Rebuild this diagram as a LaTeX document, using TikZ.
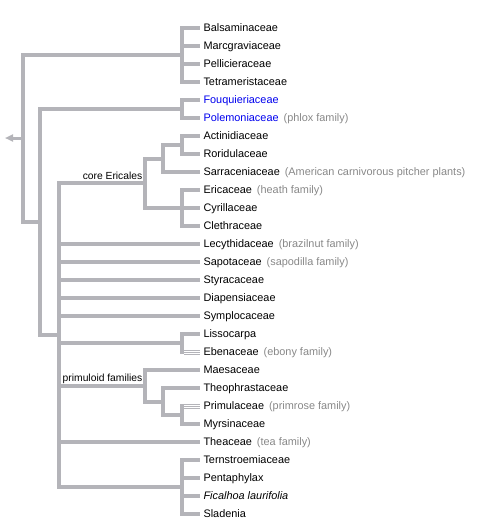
\documentclass[tikz,border=0pt]{standalone}
\usepackage{fontspec}
\setmainfont{Liberation Sans}
\usepackage{tikz}
\usetikzlibrary{arrows.meta, calc}
\definecolor{branchgray}{RGB}{180,180,185}
\definecolor{commongray}{RGB}{136,136,136}
\definecolor{linkblue}{RGB}{0,0,238}
\tikzset{
  branch/.style={draw=branchgray, line width=4pt},
  thinbranch/.style={draw=branchgray, line width=1pt},
  leaf/.style={anchor=west, inner xsep=3.5pt, inner ysep=0pt, outer sep=0pt,
    text height=7.6pt, text depth=0pt, font=\fontsize{10.9}{12}\selectfont},
  cladelabel/.style={anchor=base east, inner sep=0pt,
    font=\fontsize{10.3}{12}\selectfont}
}

\begin{document}
\begin{tikzpicture}[x=1pt, y=-1pt]
    \useasboundingbox (0,0) rectangle (486,525);

    % inner clades
    \coordinate (root) at (23,138);
    \coordinate (tip) at (5,138);
    \coordinate (teaclade) at (182,55);
    \coordinate (ericales) at (40,221.5);
    \coordinate (fouqpol) at (182,109);
    \coordinate (poly) at (59,334.5);
    \coordinate (core) at (145,183);
    \coordinate (actsar) at (163,158.5);
    \coordinate (actror) at (182,145);
    \coordinate (ericcle) at (182,208);
    \coordinate (lisebe) at (182,343);
    \coordinate (primuloid) at (145,385.5);
    \coordinate (theomyr) at (163,401.5);
    \coordinate (primyr) at (182,415);
    \coordinate (tern) at (182,487);

    % leaves
    \foreach \Y/\Name/\Colo/\Taxon/\Common in {
      28/bal/black/Balsaminaceae/,
      46/mar/black/Marcgraviaceae/,
      64/pel/black/Pellicieraceae/,
      82/tet/black/Tetrameristaceae/,
      100/fou/linkblue/Fouquieriaceae/,
      118/pol/linkblue/Polemoniaceae/(phlox family),
      136/act/black/Actinidiaceae/,
      154/ror/black/Roridulaceae/,
      172/sar/black/Sarraceniaceae/(American carnivorous pitcher plants),
      190/eri/black/Ericaceae/(heath family),
      208/cyr/black/Cyrillaceae/,
      226/cle/black/Clethraceae/,
      244/lec/black/Lecythidaceae/(brazilnut family),
      262/sap/black/Sapotaceae/(sapodilla family),
      280/sty/black/Styracaceae/,
      298/dia/black/Diapensiaceae/,
      316/sym/black/Symplocaceae/,
      334/lis/black/Lissocarpa/,
      352/ebe/black/Ebenaceae/(ebony family),
      370/mae/black/Maesaceae/,
      388/the/black/Theophrastaceae/,
      406/pri/black/Primulaceae/(primrose family),
      424/myr/black/Myrsinaceae/,
      442/tea/black/Theaceae/(tea family),
      460/ter/black/Ternstroemiaceae/,
      478/pen/black/Pentaphylax/,
      496/fic/black/\textit{Ficalhoa laurifolia}/,
      514/sla/black/Sladenia/
    }
    \node[leaf, text=\Colo] (\Name) at (200,\Y) {\Taxon\hspace{5pt}\textcolor{commongray}{\Common}};

    \node[cladelabel] (corelabel) at ([xshift=-2.5pt, yshift=4pt]core) {core Ericales};
    \node[cladelabel] (primlabel) at ([xshift=-2.5pt, yshift=4pt]primuloid) {primuloid families};

    % branches
    \draw[draw=branchgray, line width=3pt, -{Triangle[length=8pt, width=7pt]}] (root) -- (tip);
    \foreach \Parent/\Child in {root/teaclade, root/ericales, ericales/fouqpol,
      ericales/poly, poly/core, core/actsar, actsar/actror, core/ericcle,
      poly/lisebe, poly/primuloid, primuloid/theomyr, theomyr/primyr, poly/tern}
      \draw[branch] (\Parent) |- (\Child);
    \foreach \Parent/\Child in {teaclade/bal, teaclade/mar, teaclade/pel, teaclade/tet,
      fouqpol/fou, fouqpol/pol, actror/act, actror/ror, actsar/sar,
      ericcle/eri, ericcle/cyr, ericcle/cle, poly/lec, poly/sap, poly/sty,
      poly/dia, poly/sym, lisebe/lis, primuloid/mae, theomyr/the, primyr/myr,
      poly/tea, tern/ter, tern/pen, tern/fic, tern/sla}
      \draw[branch] (\Parent) |- (\Child.west);
    \foreach \Parent/\Child in {lisebe/ebe, primyr/pri} {
      \draw[branch, line cap=rect] (\Parent) -- (\Parent |- \Child.west);
      \foreach \S in {-2,0,2}
        \draw[thinbranch] ($(\Parent |- \Child.west)+(2,\S)$) -- ($(\Child.west)+(0,\S)$);
    }

  \end{tikzpicture}
\end{document}
